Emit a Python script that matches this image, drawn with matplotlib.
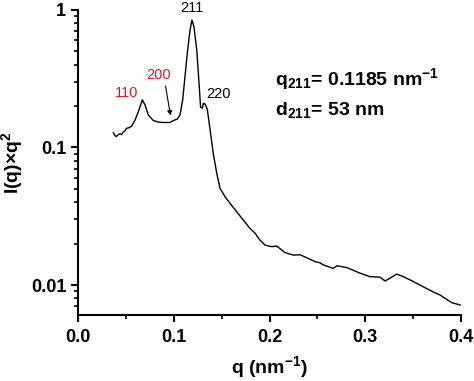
import numpy as np
import matplotlib.pyplot as plt
from matplotlib.ticker import FixedLocator, LogLocator, NullFormatter, MultipleLocator

plt.rcParams['font.family'] = ['Liberation Sans', 'DejaVu Sans']
plt.rcParams['font.weight'] = 'bold'
plt.rcParams['mathtext.fontset'] = 'custom'
plt.rcParams['mathtext.rm'] = 'Liberation Sans:bold'
plt.rcParams['mathtext.bf'] = 'Liberation Sans:bold'
plt.rcParams['mathtext.it'] = 'Liberation Sans:bold'

#### SAXS curve ####################################################
q = [0.0369, 0.0385, 0.040, 0.0420, 0.0439, 0.0455, 0.0473, 0.0490, 0.0508, 0.0530,
     0.056, 0.0595, 0.063, 0.0672, 0.070, 0.0735, 0.0787, 0.0839, 0.0891, 0.0961,
     0.0995, 0.1037, 0.1065, 0.1093, 0.1117, 0.1145, 0.117, 0.119, 0.1211, 0.124,
     0.1264, 0.128, 0.1298, 0.1309, 0.1326, 0.135, 0.1379, 0.1413, 0.1449, 0.1483,
     0.1535, 0.1587, 0.1657, 0.1726, 0.1796, 0.1849, 0.190, 0.1953, 0.2023, 0.2075,
     0.2162, 0.2249, 0.2318, 0.2388, 0.2475, 0.2527, 0.2562, 0.2666, 0.2702, 0.2806,
     0.2945, 0.3050, 0.3154, 0.3206, 0.3258, 0.3328, 0.3397, 0.3502, 0.3606, 0.3711,
     0.3781, 0.3903, 0.3990]
intensity = [0.128, 0.122, 0.120, 0.124, 0.126, 0.124, 0.130, 0.132, 0.138, 0.139,
             0.143, 0.158, 0.182, 0.222, 0.204, 0.172, 0.157, 0.153, 0.152, 0.152,
             0.157, 0.161, 0.172, 0.222, 0.327, 0.512, 0.716, 0.846, 0.756, 0.512,
             0.293, 0.196, 0.193, 0.210, 0.207, 0.190, 0.135, 0.090, 0.0649, 0.0505,
             0.0439, 0.0393, 0.0341, 0.0297, 0.0258, 0.0238, 0.0212, 0.0195, 0.0190, 0.0192,
             0.0172, 0.0165, 0.0166, 0.0158, 0.0148, 0.0145, 0.0140, 0.0132, 0.0138, 0.0134,
             0.0122, 0.0115, 0.0114, 0.0107, 0.0112, 0.0120, 0.0115, 0.0106, 0.0097, 0.0089,
             0.00846, 0.00744, 0.00716]

x_ticks = [0.0, 0.1, 0.2, 0.3, 0.4]
y_ticks = [0.01, 0.1, 1]
y_tick_labels = ['0.01', '0.1', '1']

fig = plt.figure(figsize=(4.74, 3.81), dpi=100)
ax = fig.add_axes([0.1646, 0.1732, 0.8080, 0.8006])

ax.plot(q, intensity, color='black', lw=1.0)
ax.set_yscale('log')
ax.set_xlim(0, 0.4)
ax.set_ylim(0.00605, 1)

ax.xaxis.set_major_locator(FixedLocator(x_ticks))
ax.xaxis.set_minor_locator(MultipleLocator(0.05))
ax.set_xticklabels([f'{v:.1f}' for v in x_ticks])
ax.yaxis.set_major_locator(FixedLocator(y_ticks))
ax.set_yticklabels(y_tick_labels)
ax.yaxis.set_minor_locator(LogLocator(base=10, subs=np.arange(2, 10)))
ax.yaxis.set_minor_formatter(NullFormatter())

for side in ['top', 'right']:
    ax.spines[side].set_visible(False)
for side in ['left', 'bottom']:
    ax.spines[side].set_linewidth(1.5)
ax.tick_params(which='major', direction='out', length=5, width=1.5, labelsize=13)
ax.tick_params(axis='x', which='major', pad=5)
ax.tick_params(which='minor', direction='out', length=3, width=1.2)

ax.set_xlabel('q (nm$^{-1}$)', fontsize=14, fontweight='bold', labelpad=6)
ax.set_ylabel('I(q)×q$^2$', fontsize=14, fontweight='bold', labelpad=4)

# peak labels
ax.text(0.1188, 1.03, '211', ha='center', va='center', fontsize=10.5, fontweight='normal')
ax.text(0.0509, 0.250, '110', ha='center', va='center', fontsize=10.5, fontweight='normal', color='#e8141e')
ax.text(0.0839, 0.337, '200', ha='center', va='center', fontsize=10.5, fontweight='normal', color='#e8141e')
ax.text(0.1462, 0.245, '220', ha='center', va='center', fontsize=10.5, fontweight='normal')
ax.annotate('', xy=(0.0971, 0.163), xytext=(0.0909, 0.293),
            arrowprops=dict(arrowstyle='-|>', color='black', lw=0.8, mutation_scale=7))

ax.text(0.2057, 0.285, 'q$_{211}$= 0.1185 nm$^{-1}$', fontsize=14, fontweight='bold', va='baseline')
ax.text(0.2057, 0.172, 'd$_{211}$= 53 nm', fontsize=14, fontweight='bold', va='baseline')

fig.savefig('out.png', dpi=100)
